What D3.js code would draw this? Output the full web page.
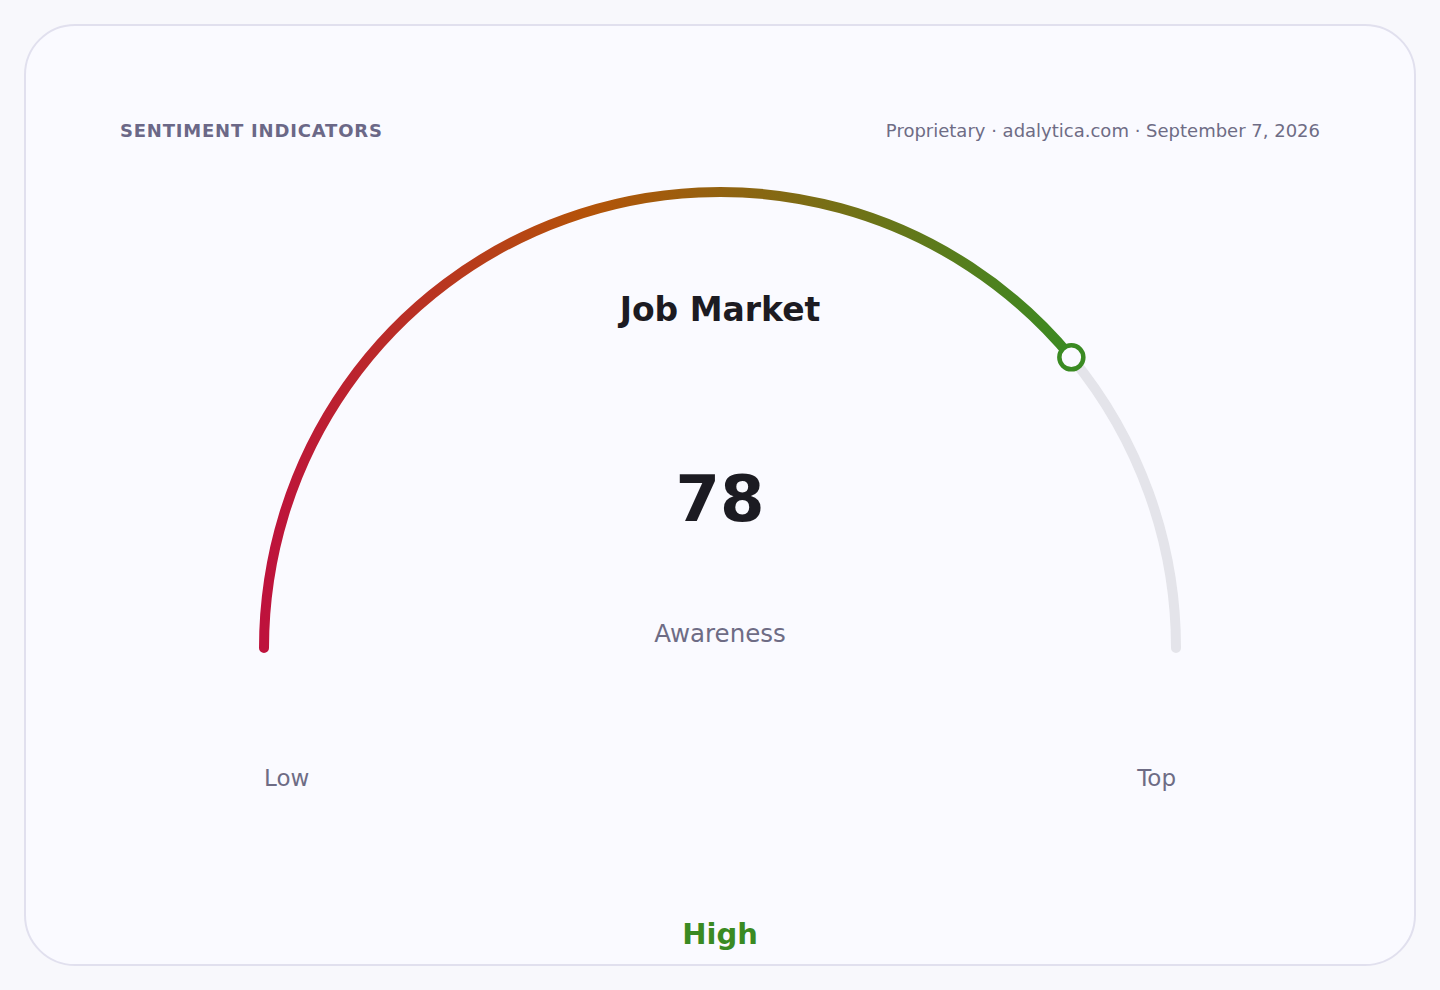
<!DOCTYPE html>
<html>
<head>
<meta charset="utf-8">
<script src="https://cdn.jsdelivr.net/npm/d3@7"></script>
<style>
  html, body { margin: 0; padding: 0; background: #f8f8fc; }
  svg { display: block; }
</style>
</head>
<body>
<svg id="chart" width="1440" height="990"></svg>
<script>
// ---- data ----
const indicatorName = "Job Market";
const metricLabel = "Awareness";
const value = 78;
const domainMin = 0;
const domainMax = 100;
const rangeLabels = ["Low", "Top"];
const ratingLabel = "High";
const headerTitle = "SENTIMENT INDICATORS";
const headerSource = "Proprietary · adalytica.com · September 7, 2026";
const gradientStops = [
  { offset: 0, color: "#be123c" },
  { offset: 0.4, color: "#b45309" },
  { offset: 1, color: "#3a8a22" }
];

// ---- layout ----
const cx = 720, cy = 648, R = 456;
const svg = d3.select("#chart");
const font = "'DejaVu Sans', Verdana, sans-serif";

// card
svg.append("rect")
  .attr("x", 25).attr("y", 25).attr("width", 1390).attr("height", 940)
  .attr("rx", 50).attr("ry", 50)
  .attr("fill", "#fafaff").attr("stroke", "#e1e0ee").attr("stroke-width", 2);

// header
svg.append("text")
  .attr("x", 120).attr("y", 137)
  .attr("font-family", font).attr("font-size", 18).attr("font-weight", "bold")
  .attr("letter-spacing", 0.8)
  .attr("fill", "#6b6887").text(headerTitle);
svg.append("text")
  .attr("x", 1320).attr("y", 137).attr("text-anchor", "end")
  .attr("font-family", font).attr("font-size", 18)
  .attr("fill", "#6e6c85").text(headerSource);

// scale: value -> canvas angle (PI = left, 2PI = right, via top)
const angle = d3.scaleLinear().domain([domainMin, domainMax]).range([Math.PI, 2 * Math.PI]);

function arcPath(v0, v1) {
  const p = d3.path();
  const a0 = angle(v0), a1 = angle(v1);
  p.moveTo(cx + R * Math.cos(a0), cy + R * Math.sin(a0));
  p.arc(cx, cy, R, a0, a1, false);
  return p.toString();
}

const defs = svg.append("defs");
const xStart = cx + R * Math.cos(angle(domainMin));
const xEnd = cx + R * Math.cos(angle(value));
const grad = defs.append("linearGradient")
  .attr("id", "gaugeGrad")
  .attr("gradientUnits", "userSpaceOnUse")
  .attr("x1", xStart).attr("y1", 0).attr("x2", xEnd).attr("y2", 0);
grad.selectAll("stop").data(gradientStops).join("stop")
  .attr("offset", d => d.offset).attr("stop-color", d => d.color);

// track
svg.append("path")
  .attr("d", arcPath(value, domainMax))
  .attr("fill", "none").attr("stroke", "#e4e4ea")
  .attr("stroke-width", 10).attr("stroke-linecap", "round");

// value arc
svg.append("path")
  .attr("d", arcPath(domainMin, value))
  .attr("fill", "none").attr("stroke", "url(#gaugeGrad)")
  .attr("stroke-width", 10).attr("stroke-linecap", "round");

// marker
const aV = angle(value);
svg.append("circle")
  .attr("cx", cx + R * Math.cos(aV)).attr("cy", cy + R * Math.sin(aV))
  .attr("r", 12).attr("fill", "#fafaff")
  .attr("stroke", "#3a8a22").attr("stroke-width", 4.5);

// center texts
svg.append("text")
  .attr("x", cx).attr("y", 321).attr("text-anchor", "middle")
  .attr("font-family", font).attr("font-size", 33).attr("font-weight", "bold")
  .attr("fill", "#1c1b22").text(indicatorName);
svg.append("text")
  .attr("x", cx).attr("y", 521).attr("text-anchor", "middle")
  .attr("font-family", font).attr("font-size", 64).attr("font-weight", "bold")
  .attr("fill", "#1c1b22").text(value);
svg.append("text")
  .attr("x", cx).attr("y", 642).attr("text-anchor", "middle")
  .attr("font-family", font).attr("font-size", 24.5)
  .attr("fill", "#6e6c85").text(metricLabel);

// range labels
svg.append("text")
  .attr("x", cx + R * Math.cos(angle(domainMin))).attr("y", 786)
  .attr("font-family", font).attr("font-size", 23)
  .attr("fill", "#6e6c85").text(rangeLabels[0]);
svg.append("text")
  .attr("x", cx + R * Math.cos(angle(domainMax))).attr("y", 786)
  .attr("text-anchor", "end")
  .attr("font-family", font).attr("font-size", 23)
  .attr("fill", "#6e6c85").text(rangeLabels[1]);

// rating
svg.append("text")
  .attr("x", cx).attr("y", 944).attr("text-anchor", "middle")
  .attr("font-family", font).attr("font-size", 29).attr("font-weight", "bold")
  .attr("fill", "#3a8a22").text(ratingLabel);
</script>
</body>
</html>
